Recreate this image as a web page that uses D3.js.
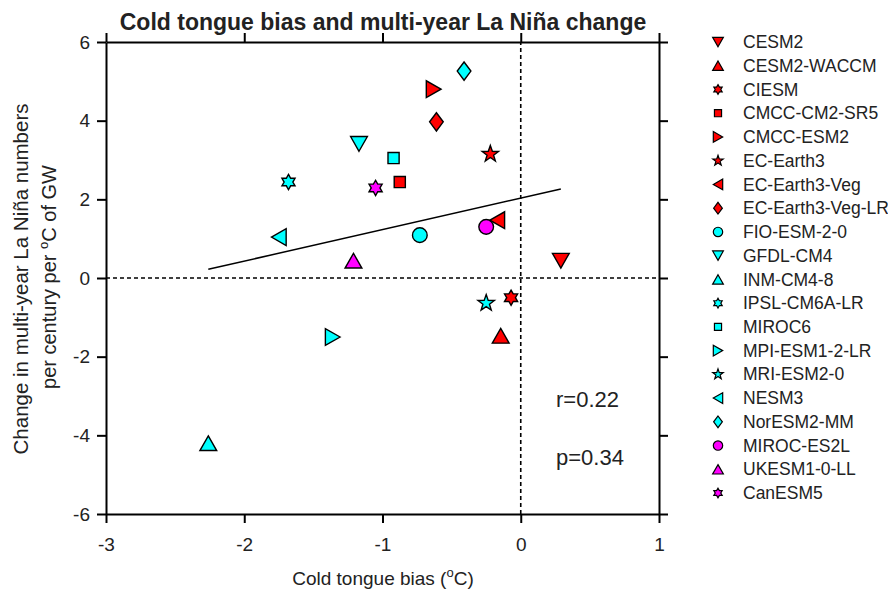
<!DOCTYPE html>
<html>
<head>
<meta charset="utf-8">
<title>Cold tongue bias and multi-year La Nina change</title>
<script src="https://cdn.jsdelivr.net/npm/d3@7"></script>
<style>
  body { margin: 0; background: #fff; }
  text { font-family: Arial, "Liberation Sans", sans-serif; fill: #222; }
</style>
</head>
<body>
<svg id="chart" width="888" height="592"></svg>
<script>
// model names (legend order)
var models = ["CESM2", "CESM2-WACCM", "CIESM", "CMCC-CM2-SR5", "CMCC-ESM2",
  "EC-Earth3", "EC-Earth3-Veg", "EC-Earth3-Veg-LR", "FIO-ESM-2-0", "GFDL-CM4",
  "INM-CM4-8", "IPSL-CM6A-LR", "MIROC6", "MPI-ESM1-2-LR", "MRI-ESM2-0",
  "NESM3", "NorESM2-MM", "MIROC-ES2L", "UKESM1-0-LL", "CanESM5"];

// cold tongue bias (oC)
var bias = [0.29, -0.145, -0.07, -0.875, -0.63, -0.22, -0.17, -0.61, -0.73, -1.17,
  -2.26, -1.68, -0.92, -1.36, -0.25, -1.75, -0.41, -0.25, -1.21, -1.05];

// change in multi-year La Nina numbers per century per oC of GW
var change = [0.44, -1.47, -0.5, 2.44, 4.8, 3.15, 1.47, 3.97, 1.09, 3.41,
  -4.2, 2.44, 3.05, -1.5, -0.64, 1.04, 5.26, 1.3, 0.44, 2.29];

var xTicks = [-3, -2, -1, 0, 1];
var yTicks = [-6, -4, -2, 0, 2, 4, 6];

// linear fit
var fitCoef = [2.03, 0.8];   // intercept, slope
var statText = ["r=0.22", "p=0.34"];

// marker style per model
var shapes = ["down", "up", "hex", "square", "right", "star", "left", "diamond", "circle", "down",
  "up", "hex", "square", "right", "star", "left", "diamond", "circle", "up", "hex"];
var colorOf = { r: "#ff0000", c: "#00ffff", m: "#ff00ff" };
var colors = "rrrrrrrrcccccccccmmm".split("").map(function(k) { return colorOf[k]; });

var svg = d3.select("#chart");
svg.append("rect").attr("width", 888).attr("height", 592).attr("fill", "#fff");

var x = d3.scaleLinear().domain([-3, 1]).range([106, 659]);
var y = d3.scaleLinear().domain([-6, 6]).range([514, 42]);

// marker shapes as paths
function markerPath(shape, s) {
  var p;
  if (shape == "up") p = [[0, -7], [8, 7], [-8, 7]];
  else if (shape == "down") p = [[0, 7], [8, -7], [-8, -7]];
  else if (shape == "right") p = [[7, 0], [-7, -8], [-7, 8]];
  else if (shape == "left") p = [[-7, 0], [7, -8], [7, 8]];
  else if (shape == "square") p = [[-5.3, -5.3], [5.3, -5.3], [5.3, 5.3], [-5.3, 5.3]];
  else if (shape == "diamond") p = [[0, -8.7], [6.5, 0], [0, 8.7], [-6.5, 0]];
  else if (shape == "hex" || shape == "star") {
    var n = shape == "hex" ? 6 : 5;
    var R = shape == "hex" ? 7.2 : 8.2;
    var r = shape == "hex" ? R / Math.sqrt(3) : R * 0.4;
    p = d3.range(2 * n).map(function(i) {
      var a = -Math.PI / 2 + i * Math.PI / n;
      var rr = i % 2 ? r : R;
      return [rr * Math.cos(a), rr * Math.sin(a)];
    });
  }
  if (shape == "circle") {
    var c = 7 * s;
    return "M" + c + ",0A" + c + "," + c + " 0 1,1 " + (-c) + ",0A" + c + "," + c + " 0 1,1 " + c + ",0Z";
  }
  return "M" + p.map(function(q) { return (q[0] * s) + "," + (q[1] * s); }).join("L") + "Z";
}

// plain hyphen for negative tick labels
function tickLabel(d) { return String(d); }

// axes (ticks outward on all four sides)
var tickFont = "19px";
svg.append("g").attr("transform", "translate(0,514)")
  .call(d3.axisBottom(x).tickValues(xTicks).tickSize(9).tickSizeOuter(0).tickPadding(15).tickFormat(tickLabel));
svg.append("g").attr("transform", "translate(0,42)")
  .call(d3.axisTop(x).tickValues(xTicks).tickSize(9).tickSizeOuter(0).tickFormat(""));
svg.append("g").attr("transform", "translate(106,0)")
  .call(d3.axisLeft(y).tickValues(yTicks).tickSize(9).tickSizeOuter(0).tickPadding(7).tickFormat(tickLabel));
svg.append("g").attr("transform", "translate(659,0)")
  .call(d3.axisRight(y).tickValues(yTicks).tickSize(9).tickSizeOuter(0).tickFormat(""));

svg.selectAll(".domain").attr("stroke", "#000").attr("stroke-width", 2);
svg.selectAll(".tick line").attr("stroke", "#000").attr("stroke-width", 2);
svg.selectAll(".tick text").attr("font-size", tickFont).attr("font-family", "Arial, 'Liberation Sans', sans-serif").attr("fill", "#222");

// zero lines
svg.append("line").attr("x1", x(-3)).attr("x2", x(1)).attr("y1", y(0)).attr("y2", y(0))
  .attr("stroke", "#000").attr("stroke-width", 1.6).attr("stroke-dasharray", "4,3");
svg.append("line").attr("x1", x(0)).attr("x2", x(0)).attr("y1", y(-6)).attr("y2", y(6))
  .attr("stroke", "#000").attr("stroke-width", 1.6).attr("stroke-dasharray", "4,3");

// regression line over the data range
var xr = d3.extent(bias);
svg.append("line")
  .attr("x1", x(xr[0])).attr("y1", y(fitCoef[0] + fitCoef[1] * xr[0]))
  .attr("x2", x(xr[1])).attr("y2", y(fitCoef[0] + fitCoef[1] * xr[1]))
  .attr("stroke", "#000").attr("stroke-width", 1.5);

// points
var pts = models.map(function(m, i) {
  return { name: m, bx: bias[i], cy: change[i], shape: shapes[i], fill: colors[i] };
});
svg.append("g").selectAll("path").data(pts).join("path")
  .attr("transform", function(d) { return "translate(" + x(d.bx) + "," + y(d.cy) + ")"; })
  .attr("d", function(d) { return markerPath(d.shape, 1.05); })
  .attr("fill", function(d) { return d.fill; })
  .attr("stroke", "#000").attr("stroke-width", 1.4).attr("stroke-linejoin", "miter");

// r and p text
svg.append("g").selectAll("text").data(statText).join("text")
  .attr("x", 556).attr("y", function(d, i) { return 407 + i * 58; })
  .attr("font-size", "22px").text(function(d) { return d; });

// title
svg.append("text").attr("x", 383).attr("y", 30).attr("text-anchor", "middle")
  .attr("font-size", "23px").attr("font-weight", "bold").attr("fill", "#000")
  .text("Cold tongue bias and multi-year La Niña change");

// x axis title
var xt = svg.append("text").attr("x", 383).attr("y", 585).attr("text-anchor", "middle").attr("font-size", "19px");
xt.append("tspan").text("Cold tongue bias (");
xt.append("tspan").attr("font-size", "13px").attr("dy", -8).text("o");
xt.append("tspan").attr("dy", 8).text("C)");

// y axis title (two lines)
var yt = svg.append("g").attr("transform", "translate(0,279) rotate(-90)");
yt.append("text").attr("x", 0).attr("y", 28).attr("text-anchor", "middle").attr("font-size", "20.5px")
  .text("Change in multi-year La Niña numbers");
var yt2 = yt.append("text").attr("x", 2).attr("y", 56).attr("text-anchor", "middle").attr("font-size", "20px");
yt2.append("tspan").text("per century per ");
yt2.append("tspan").attr("font-size", "13px").attr("dy", -8).text("o");
yt2.append("tspan").attr("dy", 8).text("C of GW");

// legend
var leg = svg.append("g").selectAll("g").data(pts).join("g")
  .attr("transform", function(d, i) { return "translate(718," + (42 + i * 23.74) + ")"; });
leg.append("path")
  .attr("d", function(d) { return markerPath(d.shape, 0.67); })
  .attr("fill", function(d) { return d.fill; })
  .attr("stroke", "#000").attr("stroke-width", 1.2);
leg.append("text").attr("x", 25).attr("dy", "0.35em").attr("font-size", "17.5px")
  .text(function(d) { return d.name; });
</script>
</body>
</html>
